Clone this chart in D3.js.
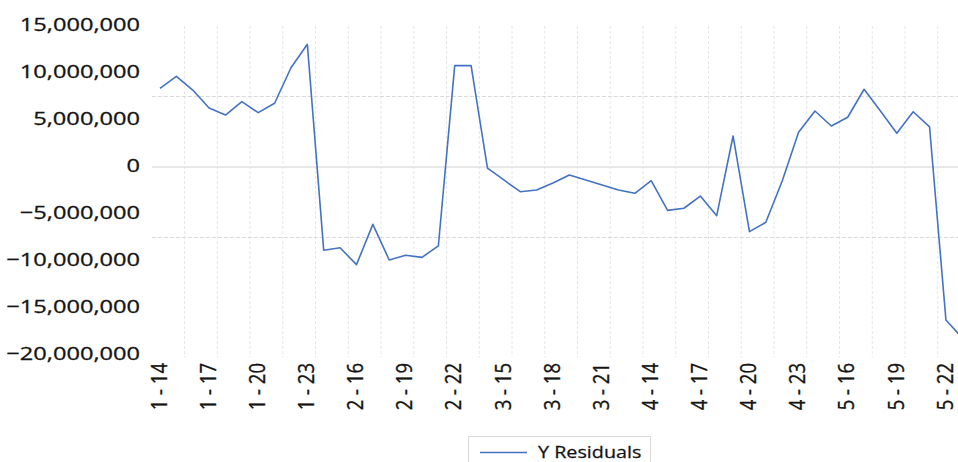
<!DOCTYPE html>
<html>
<head>
<meta charset="utf-8">
<script src="https://cdn.jsdelivr.net/npm/d3@7"></script>
<style>
  html, body { margin: 0; padding: 0; background: #fff; overflow: hidden; }
  svg { display: block; }
  text { font-family: "Open Sans", "Noto Sans", sans-serif; fill: #141414; }
</style>
</head>
<body>
<svg id="chart" width="958" height="462"></svg>
<script>
// ---- data ----
const categories = [
  "1 - 14","1 - 15","1 - 16","1 - 17","1 - 18","1 - 19","1 - 20","1 - 21","1 - 22","1 - 23",
  "2 - 14","2 - 15","2 - 16","2 - 17","2 - 18","2 - 19","2 - 20","2 - 21","2 - 22","2 - 23",
  "3 - 14","3 - 15","3 - 16","3 - 17","3 - 18","3 - 19","3 - 20","3 - 21","3 - 22","3 - 23",
  "4 - 14","4 - 15","4 - 16","4 - 17","4 - 18","4 - 19","4 - 20","4 - 21","4 - 22","4 - 23",
  "5 - 14","5 - 15","5 - 16","5 - 17","5 - 18","5 - 19","5 - 20","5 - 21","5 - 22","5 - 23"
];
const residuals = [
  8370000, 9650000, 8190000, 6280000, 5530000, 6950000, 5780000, 6780000, 10560000, 13050000,
  -8860000, -8590000, -10390000, -6100000, -9890000, -9390000, -9610000, -8400000, 10780000, 10780000,
  -110000, -1380000, -2630000, -2450000, -1700000, -850000, -1380000, -1910000, -2450000, -2800000,
  -1460000, -4610000, -4390000, -3090000, -5180000, 3300000, -6880000, -5880000, -1490000, 3690000,
  5960000, 4360000, 5290000, 8270000, 5960000, 3590000, 5880000, 4260000, -16280000, -18190000
];
const seriesName = "Y Residuals";
const yTicks = [15000000, 10000000, 5000000, 0, -5000000, -10000000, -15000000, -20000000];
const yGridDashed = [7500000, -7500000];
const yGridSolid = [0];
const xTickLabels = ["1 - 14","1 - 17","1 - 20","1 - 23","2 - 16","2 - 19","2 - 22","3 - 15","3 - 18",
                     "3 - 21","4 - 14","4 - 17","4 - 20","4 - 23","5 - 16","5 - 19","5 - 22"];

// ---- layout ----
const svg = d3.select("#chart");
const plotLeft = 151.8, plotRight = 970.5, plotTop = 26, plotBottom = 357;
const stretch = 1.27;

const x = d3.scaleBand().domain(categories).range([plotLeft, plotRight]).padding(0);
const bw = x.bandwidth();
const cx = c => x(c) + bw / 2;
const y = d3.scaleLinear().domain([-20000000, 15000000]).range([355, 26]);

const grid = svg.append("g");
// vertical gridlines at every second category boundary
categories.forEach((c, i) => {
  if (i > 0 && i % 2 === 0) {
    grid.append("line")
      .attr("x1", x(c)).attr("x2", x(c))
      .attr("y1", plotTop).attr("y2", plotBottom)
      .attr("stroke", "#e6e6e6").attr("stroke-width", 1)
      .attr("stroke-dasharray", "3,2");
  }
});
yGridDashed.forEach(v => {
  grid.append("line")
    .attr("x1", plotLeft).attr("x2", 958)
    .attr("y1", y(v)).attr("y2", y(v))
    .attr("stroke", "#d9d9d9").attr("stroke-width", 1)
    .attr("stroke-dasharray", "4,2");
});
yGridSolid.forEach(v => {
  grid.append("line")
    .attr("x1", plotLeft).attr("x2", 958)
    .attr("y1", y(v)).attr("y2", y(v))
    .attr("stroke", "#e0e0e0").attr("stroke-width", 1.6);
});

// y axis labels
const fmt = d3.format(",");
svg.append("g").selectAll("text").data(yTicks).join("text")
  .attr("transform", d => `translate(140,${y(d) - 2}) scale(${stretch},1)`)
  .attr("text-anchor", "end")
  .attr("dominant-baseline", "central")
  .style("font-size", "18.6px")
  .style("stroke", "#141414").style("stroke-width", "0.3px")
  .text(d => fmt(d));

// x axis labels (rotated)
svg.append("g").selectAll("text").data(xTickLabels).join("text")
  .attr("transform", d => `translate(${cx(d) - 2},363) scale(1.2,1) rotate(-90)`)
  .attr("text-anchor", "end")
  .attr("dominant-baseline", "central")
  .style("font-size", "18.5px")
  .style("stroke", "#141414").style("stroke-width", "0.3px")
  .text(d => d);

// line
const line = d3.line().x((d, i) => cx(categories[i])).y(d => y(d));
svg.append("path")
  .datum(residuals)
  .attr("d", line)
  .attr("fill", "none")
  .attr("stroke", "#4472C4")
  .attr("stroke-width", 1.6)
  .attr("stroke-linejoin", "round");

// legend
const lg = svg.append("g");
lg.append("rect")
  .attr("x", 468.5).attr("y", 436.5).attr("width", 182).attr("height", 40)
  .attr("fill", "#fff").attr("stroke", "#d9d9d9");
lg.append("line")
  .attr("x1", 480).attr("x2", 527).attr("y1", 452.5).attr("y2", 452.5)
  .attr("stroke", "#4472C4").attr("stroke-width", 1.5);
lg.append("text")
  .attr("transform", `translate(538,452) scale(1.25,1)`)
  .attr("dominant-baseline", "central")
  .style("font-size", "15.8px")
  .style("stroke", "#141414").style("stroke-width", "0.25px")
  .text(seriesName);
</script>
</body>
</html>
